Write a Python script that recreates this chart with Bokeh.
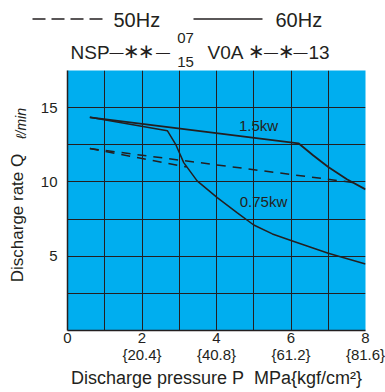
import math
from bokeh.plotting import figure
from bokeh.models import Range1d, FixedTicker, LinearAxis
from bokeh.layouts import column, row
from bokeh.core.properties import value
from bokeh.embed import file_html
from bokeh.resources import INLINE

# ---- data ----
kw15_60_x = [0.6, 6.2, 6.6, 7.0, 7.5, 8.0]
kw15_60_y = [14.35, 12.6, 11.78, 11.0, 10.18, 9.5]
kw075_60_x = [0.6, 2.68, 2.9, 3.12, 3.48, 4.02, 4.55, 5.0, 5.5, 6.0, 7.0, 8.0]
kw075_60_y = [14.35, 13.45, 12.55, 11.3, 10.07, 8.94, 7.93, 7.1, 6.5, 6.06, 5.2, 4.48]
kw15_50_x = [0.6, 7.7]
kw15_50_y = [12.25, 9.95]
kw075_50_x = [0.6, 3.2]
kw075_50_y = [12.25, 11.0]
x_ticks = [0, 2, 4, 6, 8]
x_tick_labels = ["0", "2", "4", "6", "8"]
x_tick_labels_kgf = ["", "{20.4}", "{40.8}", "{61.2}", "{81.6}"]
y_ticks = [5, 10, 15]
y_tick_labels = ["5", "10", "15"]
series_labels = ["1.5kw", "0.75kw"]
legend_labels = ["50Hz", "60Hz"]

TXT = "#231f20"
FONT = "Liberation Sans"
BG = "#00aeef"


def blank(w, h, yr):
    f = figure(width=w, height=h, output_backend="svg", toolbar_location=None,
               x_range=Range1d(0, w), y_range=yr, x_axis_type=None,
               y_axis_type=None, min_border=0, title=None)
    f.grid.visible = False
    f.outline_line_color = None
    f.background_fill_color = "white"
    f.border_fill_color = "white"
    return f


def txt(f, x, y, t, size, align="left", angle=0, font=FONT, style="normal"):
    f.text(x=[x], y=[y], text=[t], text_font=value(font), text_font_size=size,
           text_color=TXT, text_align=align, text_baseline="middle", angle=angle,
           text_font_style=style)


# ---------- header (y = 70 - page_y) ----------
hdr = blank(385, 70, Range1d(0, 70))
hdr.line([32, 102], [51.5, 51.5], line_color=TXT, line_width=1.3, line_dash="13 6")
txt(hdr, 113, 50.5, legend_labels[0], "20px")
hdr.line([193, 262], [51.5, 51.5], line_color=TXT, line_width=1.3)
txt(hdr, 275, 50.5, legend_labels[1], "20px")

txt(hdr, 70, 18.5, "NSP", "19px")
txt(hdr, 116, 19, "—", "14px", "center")
txt(hdr, 131, 19.5, "∗", "20px", "center", font="DejaVu Sans")
txt(hdr, 146, 19.5, "∗", "20px", "center", font="DejaVu Sans")
txt(hdr, 162.5, 19, "—", "14px", "center")
txt(hdr, 185, 32.5, "07", "15px", "center")
txt(hdr, 185, 9, "15", "15px", "center")
txt(hdr, 207, 18.5, "V0A", "19px")
txt(hdr, 256, 19.5, "∗", "20px", "center", font="DejaVu Sans")
txt(hdr, 270.5, 19, "—", "14px", "center")
txt(hdr, 286, 19.5, "∗", "20px", "center", font="DejaVu Sans")
txt(hdr, 300, 19, "—", "14px", "center")
txt(hdr, 308, 18.5, "13", "19px")

# ---------- left title strip (frame aligned with the chart frame; y = -page_y) ----------
lft = blank(32, 322, Range1d(-330, -70))
txt(lft, 17, -217.5, "Discharge rate Q", "17px", "center", angle=math.pi / 2)
txt(lft, 20, -123, "ℓ/min", "14px", "center", angle=math.pi / 2, style="italic")

# ---------- main chart ----------
p = figure(width=353, height=322, output_backend="svg", toolbar_location=None, title=None,
           x_range=Range1d(0, 8), y_range=Range1d(0, 17.5),
           min_border_left=35, min_border_right=20, min_border_top=0, min_border_bottom=62)
p.background_fill_color = BG
p.border_fill_color = "white"
p.outline_line_color = None

p.xgrid.ticker = FixedTicker(ticks=[0, 1, 2, 3, 4, 5, 6, 7, 8])
p.ygrid.ticker = FixedTicker(ticks=[0, 2.5, 5, 7.5, 10, 12.5, 15, 17.5])
for g in (p.xgrid, p.ygrid):
    g.grid_line_color = TXT
    g.grid_line_width = 1
    g.grid_line_alpha = 1

p.xaxis.ticker = FixedTicker(ticks=x_ticks)
p.xaxis.major_label_overrides = dict(zip(x_ticks, x_tick_labels))
p.yaxis.ticker = FixedTicker(ticks=y_ticks)
p.yaxis.major_label_overrides = dict(zip(y_ticks, y_tick_labels))

ax2 = LinearAxis(ticker=FixedTicker(ticks=x_ticks),
                 major_label_overrides=dict(zip(x_ticks, x_tick_labels_kgf)))
p.add_layout(ax2, "below")

for ax in (p.xaxis[0], p.yaxis[0], ax2):
    ax.major_tick_line_color = None
    ax.minor_tick_line_color = None
    ax.major_tick_out = 0
    ax.major_tick_in = 0
    ax.axis_line_color = TXT
    ax.axis_line_width = 1.5
    ax.major_label_text_font = FONT
    ax.major_label_text_font_size = "15px"
    ax.major_label_text_color = TXT
    ax.major_label_text_line_height = 1.0
ax2.axis_line_color = None
p.xaxis[0].major_label_standoff = 2
ax2.major_label_standoff = 0
p.yaxis[0].major_label_standoff = 10
ax2.axis_label = "Discharge pressure P\u00a0\u00a0MPa{kgf/cm²}"
ax2.axis_label_text_font = FONT
ax2.axis_label_text_font_size = "18px"
ax2.axis_label_text_font_style = "normal"
ax2.axis_label_text_color = TXT
ax2.axis_label_text_line_height = 1.0
ax2.axis_label_standoff = 2

p.line(kw15_60_x, kw15_60_y, line_color=TXT, line_width=1.8)
p.line(kw075_60_x, kw075_60_y, line_color=TXT, line_width=1.5)
p.line(kw15_50_x, kw15_50_y, line_color=TXT, line_width=1.5, line_dash="9 7")
p.line(kw075_50_x, kw075_50_y, line_color=TXT, line_width=1.5, line_dash="9 7")

p.text(x=[5.128, 5.262], y=[13.8, 8.68], text=series_labels, text_font=value(FONT),
       text_font_size="15px", text_color=TXT, text_align="center", text_baseline="middle")

layout = column(hdr, row(lft, p))
open("out.html", "w").write(file_html(layout, INLINE))
